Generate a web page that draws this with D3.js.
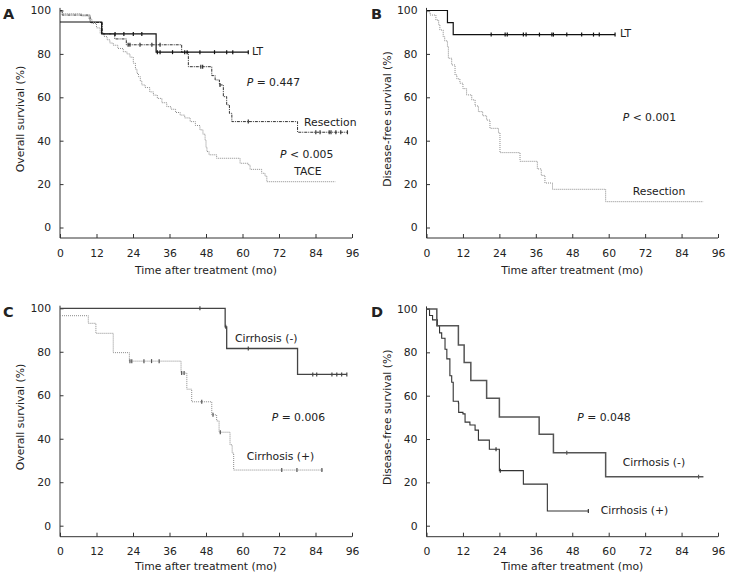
<!DOCTYPE html>
<html><head><meta charset="utf-8">
<script src="https://cdn.jsdelivr.net/npm/d3@7"></script>
<style>
body{margin:0;background:#fff;}
svg text{font-family:"DejaVu Sans",Verdana,sans-serif;fill:#222;}
</style></head>
<body><svg id="c" width="734" height="583"></svg>
<script>
// ---------- data ----------
const xTicks = [0,12,24,36,48,60,72,84,96];
const yTicks = [0,20,40,60,80,100];
const xTitle = "Time after treatment (mo)";
const yTitleOS = "Overall survival (%)";
const yTitleDFS = "Disease-free survival (%)";

// Panel A
const aLT = [[0,94.7],[13.7,89.2],[31.6,80.8],[61.9,80.8]];
const aLTCens = [18.1,21,24.1,26.9,32,32.9,37,41,41.8,46,50.8,54.8,56.8,61.9];
const aRes = [[0,100],[0.7,97.9],[9.9,94.5],[13.9,89.2],[18.0,86.9],[21.8,84.2],[40,80.8],[42.2,74.1],[49.9,70],[51,68],[52.4,65.7],[53.7,60.3],[54.8,56.5],[55.7,52.6],[56.5,48.8],[78.1,43.9],[94.5,43.9]];
const aResCens = [22.4,23.0,26.3,30.2,32.9,46.3,46.9,52.6,61.9,84.1,85.5,88.5,89.1,90.7,92.3,94.5];
const aTACE = [[0,100],[0.8,98.5],[7,97.5],[9.5,96],[10.5,94],[12,92],[13.2,89.5],[14.5,88],[15.5,86.5],[16.4,85],[17.5,84],[19,82.5],[20.8,81],[22,80],[23,78.5],[24.1,75.7],[24.8,73],[25.3,71],[25.8,69.5],[26.4,67.5],[26.9,65.7],[28,64.5],[29.5,62.5],[30.7,61],[32,59.5],[33.5,57.5],[35.1,55.7],[36.5,54.5],[38,53],[39.5,51.8],[41,50.5],[42.8,48.8],[44.5,47],[46,45],[47,43],[47.7,40.3],[48,37],[48.3,35],[49,33.5],[51.5,31.9],[59.2,29.6],[61.9,28.8],[62.5,26.8],[66.3,25],[67.4,23.7],[68,21.1],[90.5,21.1]];

// Panel B
const bLT = [[0,100],[6.9,94.4],[8.8,88.9],[62.1,88.9]];
const bLTCens = [21.3,25.9,26.6,31.9,32.8,37.2,41.3,41.8,46.2,51.1,55,56.9,62.1];
const bRes = [[0,100],[0.3,99.4],[1.2,97.9],[3.1,95.6],[4.0,93.5],[4.4,91],[5.5,87.9],[6.0,86],[6.9,83.3],[7.2,78],[8.3,74.9],[9.4,70.3],[10,68.5],[11,66.5],[12,64],[13.2,61.1],[14.9,58.8],[16,56],[17.1,53.4],[18.5,51.5],[19.8,49.5],[20.9,45.7],[23.7,43.7],[24.2,34.5],[30.8,30.5],[36.5,27],[37.8,24],[39,20.5],[41.5,17.6],[59,11.9],[91.2,11.9]];

// Panel C
const cNeg = [[0,100],[54.3,91.5],[54.8,81.5],[78.1,69.6],[94.3,69.6]];
const cNegCens = [46,54.5,61.9,83.1,84.4,89.4,91,92.6,94.3];
const cPos = [[0,96.6],[9.3,93.1],[11.8,88.5],[17.5,79.6],[22.8,75.7],[39.8,70.2],[41.7,62.8],[43.3,57],[49.9,51],[51.5,48.2],[52.3,43],[55.9,37.2],[56.6,33.4],[57.1,25.6],[86.6,25.6]];
const cPosCens = [23,23.6,27.6,30.1,32.6,40,40.8,46.6,50.3,52.7,72.9,77.9,86.1];

// Panel D
const dNeg = [[0,100],[3.4,92.3],[10.5,83.4],[12.4,75.3],[14.6,67],[19.8,58.8],[24,50.2],[37.1,42.2],[41.8,33.7],[59,22.6],[91.2,22.6]];
const dNegCens = [46.2,89.6];
const dPos = [[0,100],[1.0,97],[2.0,95],[3.6,92.3],[4.3,89],[5.0,86.5],[6.1,81.4],[6.7,77],[7.7,69.2],[8.3,66.2],[8.8,57.4],[10.5,56.6],[10.6,52.3],[12,51.6],[12.7,47.8],[14.3,46.5],[16,44.1],[17.1,39.5],[20.7,35.3],[24,25.4],[31.9,19.2],[39.8,6.8],[53.3,6.8]];
const dPosCens = [22.9,24.3,53.3];

// ---------- layout ----------
const panels = [
  {letter:"A", lx:3, ly:19, xr:[60,352], yr:[227.5,10.5], axisY:238, xTitleY:271, yTitleX:21, yTitle:yTitleOS,
   series:[
     {data:aTACE, cens:[], color:"#8a8a8a", w:1, dash:"1,1"},
     {data:aRes, cens:aResCens, color:"#333", w:1, dash:"3,1,1,1"},
     {data:aLT, cens:aLTCens, color:"#111", w:1.2, dash:null}
   ],
   labels:[
     {t:"LT", x:252, y:51.7},
     {t:"= 0.447", p:true, x:246.7, y:83.3},
     {t:"Resection", x:304, y:122.7},
     {t:"< 0.005", p:true, x:280, y:155},
     {t:"TACE", x:308, y:172.3, anchor:"middle"}
   ]},
  {letter:"B", lx:371, ly:19, xr:[426.5,718], yr:[227.5,10.5], axisY:238, xTitleY:271, yTitleX:388, yTitle:yTitleDFS,
   series:[
     {data:bRes, cens:[], color:"#8a8a8a", w:1, dash:"1,1"},
     {data:bLT, cens:bLTCens, color:"#111", w:1.2, dash:null}
   ],
   labels:[
     {t:"LT", x:620, y:34.3},
     {t:"< 0.001", p:true, x:622.7, y:118.3},
     {t:"Resection", x:659, y:192.3, anchor:"middle"}
   ]},
  {letter:"C", lx:3, ly:317, xr:[60,352], yr:[525.7,308.3], axisY:536.7, xTitleY:567, yTitleX:21, yTitle:yTitleOS,
   series:[
     {data:cPos, cens:cPosCens, color:"#8a8a8a", w:1, dash:"1,1"},
     {data:cNeg, cens:cNegCens, color:"#444", w:1.3, dash:null}
   ],
   labels:[
     {t:"Cirrhosis (-)", x:235, y:339.3},
     {t:"= 0.006", p:true, x:271.7, y:417.7},
     {t:"Cirrhosis (+)", x:246.7, y:456.7}
   ]},
  {letter:"D", lx:371, ly:317, xr:[426.5,718], yr:[525.7,309], axisY:536.7, xTitleY:567, yTitleX:388, yTitle:yTitleDFS,
   series:[
     {data:dPos, cens:dPosCens, color:"#333", w:1.1, dash:null},
     {data:dNeg, cens:dNegCens, color:"#555", w:1.5, dash:null}
   ],
   labels:[
     {t:"= 0.048", p:true, x:577.3, y:418.3},
     {t:"Cirrhosis (-)", x:622.7, y:463.3},
     {t:"Cirrhosis (+)", x:600.7, y:511}
   ]}
];

const svg = d3.select("#c");
const FS = 10.8;

function survAt(data, t){
  let s = data[0][1];
  for (const d of data){ if (d[0] <= t) s = d[1]; }
  return s;
}

panels.forEach(p => {
  const x = d3.scaleLinear().domain([0,96]).range(p.xr);
  const y = d3.scaleLinear().domain([0,100]).range(p.yr);
  const g = svg.append("g");

  // axis lines
  g.append("line").attr("x1",x(0)).attr("x2",x(0)).attr("y1",y(101.2)).attr("y2",p.axisY)
    .attr("stroke","#333").attr("stroke-width",1);
  g.append("line").attr("x1",x(0)).attr("x2",x(96)).attr("y1",p.axisY).attr("y2",p.axisY)
    .attr("stroke","#333").attr("stroke-width",1);

  const xa = g.append("g").attr("transform",`translate(0,${p.axisY})`)
    .call(d3.axisBottom(x).tickValues(xTicks).tickSizeInner(-4).tickSizeOuter(0).tickPadding(11));
  const ya = g.append("g").attr("transform",`translate(${x(0)},0)`)
    .call(d3.axisLeft(y).tickValues(yTicks).tickSizeInner(-3.5).tickSizeOuter(0).tickPadding(9));
  [xa,ya].forEach(a=>{
    a.select(".domain").remove();
    a.selectAll("line").attr("stroke","#333");
    a.selectAll("text").attr("font-size",FS).attr("font-family","DejaVu Sans").attr("fill","#222");
  });

  // titles
  g.append("text").attr("x",(p.xr[0]+p.xr[1])/2).attr("y",p.xTitleY).attr("text-anchor","middle")
    .attr("dominant-baseline","middle").attr("font-size",FS).text(xTitle);
  g.append("text").attr("transform",`translate(${p.yTitleX},${(p.yr[0]+p.yr[1])/2}) rotate(-90)`)
    .attr("text-anchor","middle").attr("dominant-baseline","middle").attr("font-size",FS).text(p.yTitle);
  g.append("text").attr("x",p.lx).attr("y",p.ly).attr("font-family","Liberation Sans, Arial, sans-serif")
    .attr("font-weight","bold").attr("font-size",14.5).attr("fill","#111").text(p.letter);

  // curves
  const line = d3.line().x(d=>x(d[0])).y(d=>y(d[1])).curve(d3.curveStepAfter);
  p.series.forEach(s => {
    g.append("path").datum(s.data).attr("d",line).attr("fill","none")
      .attr("stroke",s.color).attr("stroke-width",s.w)
      .attr("stroke-dasharray",s.dash);
    g.selectAll(null).data(s.cens).enter().append("line")
      .attr("x1",d=>x(d)).attr("x2",d=>x(d))
      .attr("y1",d=>y(survAt(s.data,d))-2).attr("y2",d=>y(survAt(s.data,d))+2)
      .attr("stroke",s.color==="#8a8a8a"?"#555":s.color).attr("stroke-width",1.2);
  });

  // labels
  p.labels.forEach(l => {
    const t = g.append("text").attr("x",l.x).attr("y",l.y).attr("dominant-baseline","middle")
      .attr("font-size",FS).attr("text-anchor",l.anchor||"start");
    if (l.p){
      t.append("tspan").attr("font-style","italic").text("P");
      t.append("tspan").text(" " + l.t);
    } else t.text(l.t);
  });
});
</script></body></html>
